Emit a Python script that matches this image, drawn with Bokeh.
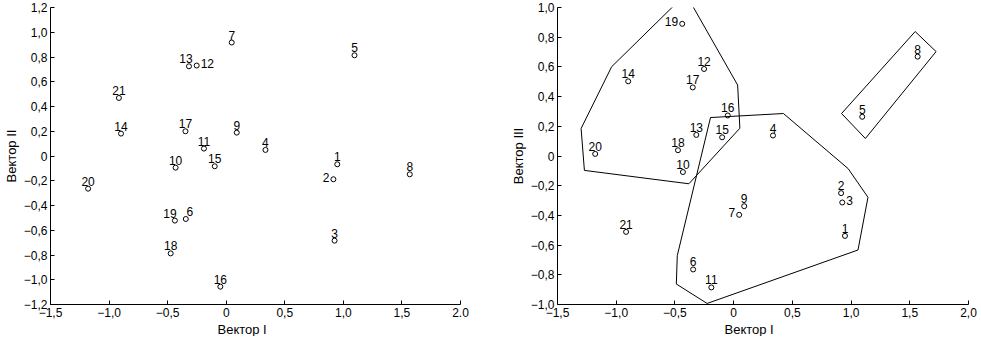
from bokeh.plotting import figure
from bokeh.models import Range1d, FixedTicker, CustomJSTickFormatter, ColumnDataSource, Title
from bokeh.layouts import row
from bokeh.core.properties import value
from bokeh.embed import file_html
from bokeh.resources import INLINE

# ---- data ----
labels = [str(i) for i in range(1, 22)]
vec1 = [0.948, 0.915, 0.925, 0.335, 1.095, -0.345, 0.047, 1.567, 0.090, -0.432, -0.190,
        -0.252, -0.318, -0.898, -0.098, -0.050, -0.348, -0.474, -0.438, -1.179, -0.916]
vec2 = [-0.067, -0.188, -0.684, 0.049, 0.814, -0.509, 0.917, -0.148, 0.189, -0.094, 0.060,
        0.731, 0.725, 0.181, -0.083, -1.056, 0.200, -0.787, -0.522, -0.264, 0.469]
vec3 = [-0.538, -0.250, -0.313, 0.138, 0.264, -0.764, -0.396, 0.669, -0.338, -0.108, -0.885,
        0.586, 0.142, 0.503, 0.126, 0.273, 0.462, 0.039, 0.890, 0.014, -0.511]

x_ticks = [-1.5, -1.0, -0.5, 0.0, 0.5, 1.0, 1.5, 2.0]
y2_ticks = [-1.2, -1.0, -0.8, -0.6, -0.4, -0.2, 0.0, 0.2, 0.4, 0.6, 0.8, 1.0, 1.2]
y3_ticks = [-1.0, -0.8, -0.6, -0.4, -0.2, 0.0, 0.2, 0.4, 0.6, 0.8, 1.0]

# cluster outlines in the Vector I / Vector III plane
hull_a_x = [-0.516, -0.347, 0.034, 0.053, -0.381, -1.271, -1.299, -1.039]
hull_a_y = [1.007, 1.007, 0.478, 0.187, -0.187, -0.097, 0.185, 0.601]
hull_b_x = [-0.197, 0.424, 0.975, 1.144, 1.059, -0.226, -0.488, -0.480]
hull_b_y = [0.259, 0.286, -0.085, -0.278, -0.633, -0.993, -0.862, -0.671]
hull_c_x = [1.546, 1.724, 1.122, 0.919]
hull_c_y = [0.838, 0.703, 0.118, 0.286]

# label placement (style): anchor side and small horizontal nudge in px
place_left_plot = {"12": ("right", 0), "2": ("left", 0), "19": ("above", -5),
                   "6": ("above", 4), "13": ("above", -3)}
place_right_plot = {"19": ("left", 0), "7": ("left", 0), "3": ("right", 0)}

FONT = "Liberation Sans"


def label_cols(place):
    xo, yo, al, bl = [], [], [], []
    for lab in labels:
        side, dx = place.get(lab, ("above", 0))
        if side == "above":
            xo.append(dx); yo.append(-3); al.append("center"); bl.append("bottom")
        elif side == "left":
            xo.append(-4 + dx); yo.append(-2); al.append("right"); bl.append("middle")
        else:
            xo.append(4 + dx); yo.append(-2); al.append("left"); bl.append("middle")
    return xo, yo, al, bl


def make_fig(ys, y_ticks, y_label, place, y_rng, left_border, right_border, frame_w, two_dot):
    p = figure(frame_width=frame_w, frame_height=297, output_backend="svg", toolbar_location=None,
               x_range=Range1d(-1.5, 2.0), y_range=Range1d(*y_rng),
               min_border_left=left_border, min_border_right=right_border,
               min_border_top=7, min_border_bottom=0)
    p.outline_line_color = None
    p.grid.visible = False
    p.background_fill_color = "white"
    p.border_fill_color = "white"

    fmt_x = CustomJSTickFormatter(args=dict(dot=two_dot), code="""
        if (Math.abs(tick) < 1e-9) return "0";
        var s = tick.toFixed(1);
        if (dot && Math.abs(tick - 2.0) < 1e-9) return s;
        return s.replace(".", ",").replace("-", "\u2212");
    """)
    fmt_y = CustomJSTickFormatter(code="""
        if (Math.abs(tick) < 1e-9) return "0";
        return tick.toFixed(1).replace(".", ",").replace("-", "\u2212");
    """)
    p.xaxis.ticker = FixedTicker(ticks=x_ticks)
    p.yaxis.ticker = FixedTicker(ticks=y_ticks)
    p.xaxis.formatter = fmt_x
    p.yaxis.formatter = fmt_y
    for ax in (p.xaxis[0], p.yaxis[0]):
        ax.major_tick_in = 4
        ax.major_tick_out = 0
        ax.minor_tick_in = 0
        ax.minor_tick_out = 0
        ax.axis_line_color = "black"
        ax.major_tick_line_color = "black"
        ax.major_label_text_font = FONT
        ax.major_label_text_font_size = "12px"
        ax.major_label_text_color = "black"
        ax.major_label_standoff = 3
    p.yaxis.axis_label = y_label
    p.yaxis.axis_label_text_font = FONT
    p.yaxis.axis_label_text_font_size = "13px"
    p.yaxis.axis_label_text_font_style = "normal"
    p.yaxis.axis_label_text_color = "black"
    p.yaxis.axis_label_standoff = 2

    p.add_layout(Title(text="Вектор I", align="left", offset=167, standoff=0,
                       text_font=FONT, text_font_size="13px", text_font_style="normal",
                       text_color="black"), "below")

    xo, yo, al, bl = label_cols(place)
    src = ColumnDataSource(dict(x=vec1, y=ys, lab=labels, xo=xo, yo=yo, al=al, bl=bl))
    p.scatter("x", "y", source=src, marker="circle", size=5, fill_color="white",
              line_color="black", line_width=1)
    p.text("x", "y", text="lab", source=src, x_offset="xo", y_offset="yo",
           text_align="al", text_baseline="bl", text_font=value(FONT),
           text_font_size="12px", text_color="black")
    return p


p1 = make_fig(vec2, y2_ticks, "Вектор II", place_left_plot, (-1.2, 1.2), 50, 40, 410, True)
p2 = make_fig(vec3, y3_ticks, "Вектор III", place_right_plot, (-1.0, 1.0), 57, 13, 411, False)
p2.patches([hull_a_x, hull_b_x, hull_c_x], [hull_a_y, hull_b_y, hull_c_y],
           fill_color=None, line_color="black", line_width=1)

layout = row(p1, p2)

open("out.html", "w").write(file_html(layout, INLINE))
